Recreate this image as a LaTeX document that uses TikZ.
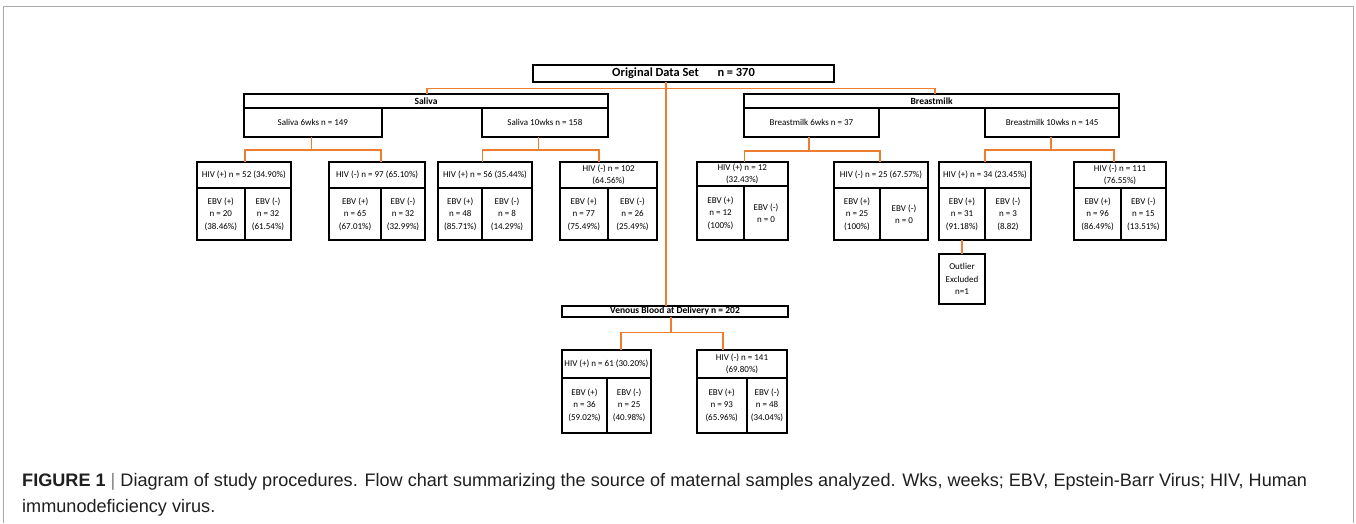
\documentclass[tikz,border=0pt]{standalone}
\usepackage{fontspec}
\setmainfont{Carlito}
\newfontfamily\capfont{Liberation Sans}
\usetikzlibrary{calc}
\definecolor{orangeline}{HTML}{ED7D31}
\definecolor{framegray}{HTML}{AAAAAA}
\tikzset{
 bx/.style={draw, line width=1.8pt, inner sep=0pt, outer sep=0pt, anchor=north west, align=center, font=\fontsize{9}{12.5}\selectfont},
 link/.style={draw=orangeline, line width=1.6pt},
 hdr/.style={font=\bfseries\fontsize{9.5}{10}\selectfont},
}
\newcommand\mkbox[7][]{%
 \pgfmathsetmacro\mkbw{#5-#3}\pgfmathsetmacro\mkbh{#6-#4}%
 \node[bx,#1,minimum width=\mkbw pt,minimum height=\mkbh pt] (#2) at (#3,#4) {#7};}
\begin{document}
\begin{tikzpicture}[x=1pt,y=-1pt]
\useasboundingbox (0,0) rectangle (1356,523);
\draw[framegray, line width=1pt] (3,523) -- (3,6.5) -- (1353,6.5) -- (1353,523);
% top
\mkbox[font=\bfseries\fontsize{12.4}{14}\selectfont]{orig}{532.7}{65}{834.3}{81.7}{Original Data Set\hspace{1.5em}n = 370}
% saliva
\mkbox[hdr]{sal}{244}{94.3}{608}{107.7}{Saliva}
\mkbox{s6}{244}{107.7}{381.7}{136.7}{Saliva 6wks n = 149}
\mkbox{s10}{481.7}{107.7}{608}{136.7}{Saliva 10wks n = 158}
% breastmilk
\mkbox[hdr]{bm}{744}{94.3}{1119.3}{107.7}{Breastmilk}
\mkbox{b6}{744}{107.7}{879}{136.7}{Breastmilk 6wks n = 37}
\mkbox{b10}{985}{107.7}{1119.3}{136.7}{Breastmilk 10wks n = 145}
% saliva 6wks
\mkbox{s6p}{196.7}{161.7}{291}{188.3}{HIV (+) n = 52 (34.90\%)}
\mkbox{s6pa}{196.7}{188.3}{245}{240}{EBV (+)\\n = 20\\(38.46\%)}
\mkbox{s6pb}{245}{188.3}{291}{240}{EBV (-)\\n = 32\\(61.54\%)}
\mkbox{s6m}{329.3}{161.7}{425}{188.3}{HIV (-) n = 97 (65.10\%)}
\mkbox{s6ma}{329.3}{188.3}{381}{240}{EBV (+)\\n = 65\\(67.01\%)}
\mkbox{s6mb}{381}{188.3}{425}{240}{EBV (-)\\n = 32\\(32.99\%)}
% saliva 10wks
\mkbox{s10p}{438.3}{161.7}{531.7}{188}{HIV (+) n = 56 (35.44\%)}
\mkbox{s10pa}{438.3}{188}{482.3}{240}{EBV (+)\\n = 48\\(85.71\%)}
\mkbox{s10pb}{482.3}{188}{531.7}{240}{EBV (-)\\n = 8\\(14.29\%)}
\mkbox{s10m}{560}{161.7}{657.3}{188}{HIV (-) n = 102\\(64.56\%)}
\mkbox{s10ma}{560}{188}{607.7}{240}{EBV (+)\\n = 77\\(75.49\%)}
\mkbox{s10mb}{607.7}{188}{657.3}{240}{EBV (-)\\n = 26\\(25.49\%)}
% breastmilk 6wks
\mkbox{b6p}{696.7}{161.7}{787.7}{186}{HIV (+) n = 12\\(32.43\%)}
\mkbox{b6pa}{696.7}{186}{744.3}{240}{EBV (+)\\n = 12\\(100\%)}
\mkbox{b6pb}{744.3}{186}{787.7}{240}{EBV (-)\\n = 0}
\mkbox{b6m}{834}{161.7}{928}{188}{HIV (-) n = 25 (67.57\%)}
\mkbox{b6ma}{834}{188}{880}{240}{EBV (+)\\n = 25\\(100\%)}
\mkbox{b6mb}{880}{188}{928}{240}{EBV (-)\\n = 0}
% breastmilk 10wks
\mkbox{b10p}{939}{161.7}{1031}{188}{HIV (+) n = 34 (23.45\%)}
\mkbox{b10pa}{939}{188}{985}{240}{EBV (+)\\n = 31\\(91.18\%)}
\mkbox{b10pb}{985}{188}{1031}{240}{EBV (-)\\n = 3\\(8.82)}
\mkbox{b10m}{1074.3}{161.7}{1165.7}{188}{HIV (-) n = 111\\(76.55\%)}
\mkbox{b10ma}{1074.3}{188}{1121}{240}{EBV (+)\\n = 96\\(86.49\%)}
\mkbox{b10mb}{1121}{188}{1165.7}{240}{EBV (-)\\n = 15\\(13.51\%)}
\mkbox{out}{939}{254}{985}{304.3}{Outlier\\Excluded\\n=1}
% venous
\mkbox[hdr]{ven}{561.7}{305.7}{788.3}{316.7}{Venous Blood at Delivery n = 202}
\mkbox{vp}{561.7}{350}{651}{377.7}{HIV (+) n = 61 (30.20\%)}
\mkbox{vpa}{561.7}{377.7}{607.3}{432.7}{EBV (+)\\n = 36\\(59.02\%)}
\mkbox{vpb}{607.3}{377.7}{651}{432.7}{EBV (-)\\n = 25\\(40.98\%)}
\mkbox{vm}{696.7}{350}{787.3}{377.7}{HIV (-) n = 141\\(69.80\%)}
\mkbox{vma}{696.7}{377.7}{746.7}{432.7}{EBV (+)\\n = 93\\(65.96\%)}
\mkbox{vmb}{746.7}{377.7}{787.3}{432.7}{EBV (-)\\n = 48\\(34.04\%)}
% connectors
\coordinate (top) at ($(orig.south west)+(133,0)$);
\draw[link] (top) -- (top |- ven.north);
\draw[link] ($(sal.north west)+(182.7,0)$) -- ++(0,-6) -| ($(bm.north west)+(191,0)$);
\draw[link] ($(s6.south)+(-1.2,0)$) -- ++(0,13) coordinate (js6);
\draw[link] (s6pa.east |- s6p.north) |- (js6) -| (s6ma.east |- s6m.north);
\draw[link] ($(s10.south)+(-6.5,0)$) -- ++(0,13.3) coordinate (js10);
\draw[link] (s10pa.east |- s10p.north) |- (js10) -| ($(s10m.north west)+(39,0)$);
\draw[link] ($(b6.south)+(-2.5,0)$) -- ++(0,14) coordinate (jb6);
\draw[link] (b6pa.east |- b6p.north) |- (jb6) -| (b6ma.east |- b6m.north);
\draw[link] ($(b10.south)+(-1.3,0)$) -- ++(0,13.3) coordinate (jb10);
\draw[link] (b10pa.east |- b10p.north) |- (jb10) -| ($(b10m.north west)+(39.7,0)$);
\draw[link] ($(ven.south)+(-4.3,0)$) -- ++(0,15.6) coordinate (jv);
\draw[link] ($(vp.north west)+(59.3,0)$) |- (jv) -| ($(vm.north west)+(26,0)$);
\draw[link] (b10pa.south) -- (out.north);
% caption
\node[anchor=base west, align=left, inner sep=0pt, text=black!88, font=\capfont\fontsize{18.1}{26}\selectfont] (cap) at (22,512)
 {\textbf{FIGURE 1} {\color{gray}|} Diagram of study procedures. Flow chart summarizing the source of maternal samples analyzed. Wks, weeks; EBV, Epstein-Barr Virus; HIV, Human\\immunodeficiency virus.};
\end{tikzpicture}
\end{document}
